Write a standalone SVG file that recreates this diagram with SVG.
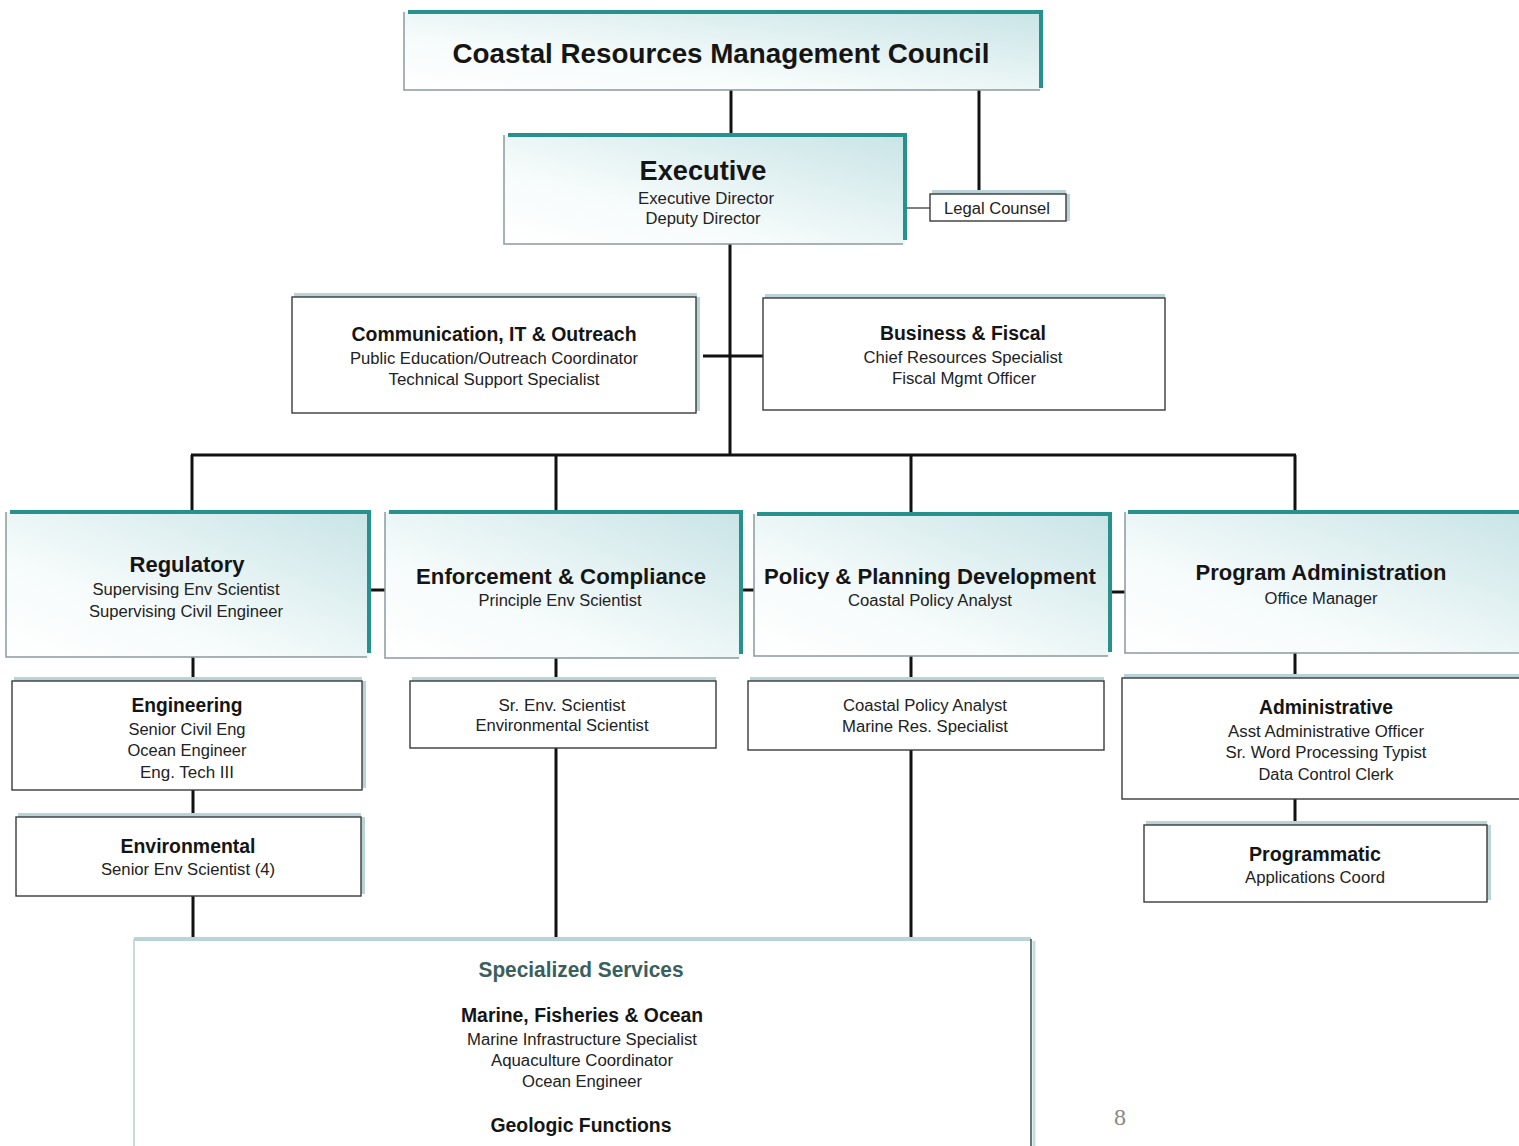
<svg xmlns="http://www.w3.org/2000/svg" width="1519" height="1146" viewBox="0 0 1519 1146">
<defs>
<linearGradient id="hg" x1="0" y1="1" x2="1" y2="0">
<stop offset="0" stop-color="#ffffff"/>
<stop offset="0.35" stop-color="#f6fbfb"/>
<stop offset="1" stop-color="#c9e4e6"/>
</linearGradient>
<style>
.hd{font-family:"Liberation Sans",Arial,sans-serif;font-weight:bold;fill:#151515;text-anchor:middle}
.sb{font-family:"Liberation Sans",Arial,sans-serif;fill:#222;text-anchor:middle}
.conn{stroke:#111;stroke-width:3;fill:none}
.thin{stroke:#555;stroke-width:1.5;fill:none}
.hbox{fill:url(#hg);stroke:none}
.edge{stroke:#8a9a9c;stroke-width:1.5;fill:none}
.teal{stroke:#26918d;stroke-width:4;fill:none}
.wbox{fill:#ffffff;stroke:#3a3a3a;stroke-width:1.4}
.shade{stroke:#b9d3d7;stroke-width:4;fill:none}
</style>
</defs>
<rect width="1519" height="1146" fill="#ffffff"/>

<g id="connectors">
<path class="conn" d="M731 90V135"/>
<path class="conn" d="M979 90V192"/>
<path class="thin" d="M907 208H930"/>
<path class="conn" d="M730 244V455"/>
<path class="conn" d="M703 356H763"/>
<path class="conn" d="M191 455H1296"/>
<path class="conn" d="M192 455V512"/>
<path class="conn" d="M556 455V512"/>
<path class="conn" d="M911 455V514"/>
<path class="conn" d="M1295 455V512"/>
<path class="conn" d="M371 590H385"/>
<path class="conn" d="M743 590H754"/>
<path class="conn" d="M1112 592H1125"/>
<path class="conn" d="M193 657V681"/>
<path class="conn" d="M556 658V681"/>
<path class="conn" d="M911 656V681"/>
<path class="conn" d="M1295 653V678"/>
<path class="conn" d="M193 790V817"/>
<path class="conn" d="M193 896V939"/>
<path class="conn" d="M556 748V939"/>
<path class="conn" d="M911 750V939"/>
<path class="conn" d="M1295 799V825"/>
</g>

<g id="council">
<rect class="hbox" x="404" y="12" width="638" height="78"/>
<path class="edge" d="M404 12V90H1040"/>
<path class="teal" d="M408 12H1043M1041 10V88"/>
<text class="hd" x="721" y="63" font-size="28" textLength="537" lengthAdjust="spacingAndGlyphs">Coastal Resources Management Council</text>
</g>

<g id="executive">
<rect class="hbox" x="504" y="135" width="401" height="109"/>
<path class="edge" d="M504 135V244H903"/>
<path class="teal" d="M508 135H907M905 133V240"/>
<text class="hd" x="703" y="180" font-size="28" textLength="127" lengthAdjust="spacingAndGlyphs">Executive</text>
<text class="sb" x="706" y="204" font-size="16" textLength="136" lengthAdjust="spacingAndGlyphs">Executive Director</text>
<text class="sb" x="703" y="224" font-size="16" textLength="115" lengthAdjust="spacingAndGlyphs">Deputy Director</text>
</g>

<g id="legal">
<path class="shade" d="M932 192H1066M1068 194V221"/>
<rect class="wbox" x="930" y="194" width="136" height="27"/>
<text class="sb" x="997" y="214" font-size="16" textLength="106" lengthAdjust="spacingAndGlyphs">Legal Counsel</text>
</g>

<g id="communication">
<path class="shade" d="M294 295H697M698 297V411"/>
<rect class="wbox" x="292" y="297" width="404" height="116"/>
<text class="hd" x="494" y="341" font-size="20" textLength="285" lengthAdjust="spacingAndGlyphs">Communication, IT &amp; Outreach</text>
<text class="sb" x="494" y="364" font-size="16" textLength="288" lengthAdjust="spacingAndGlyphs">Public Education/Outreach Coordinator</text>
<text class="sb" x="494" y="385" font-size="16" textLength="211" lengthAdjust="spacingAndGlyphs">Technical Support Specialist</text>
</g>

<g id="business">
<path class="shade" d="M765 296H1165"/>
<rect class="wbox" x="763" y="298" width="402" height="112"/>
<text class="hd" x="963" y="340" font-size="20" textLength="166" lengthAdjust="spacingAndGlyphs">Business &amp; Fiscal</text>
<text class="sb" x="963" y="363" font-size="16" textLength="199" lengthAdjust="spacingAndGlyphs">Chief Resources Specialist</text>
<text class="sb" x="964" y="384" font-size="16" textLength="144" lengthAdjust="spacingAndGlyphs">Fiscal Mgmt Officer</text>
</g>

<g id="regulatory">
<rect class="hbox" x="6" y="512" width="363" height="145"/>
<path class="edge" d="M6 512V657H367"/>
<path class="teal" d="M10 512H371M369 510V653"/>
<text class="hd" x="187" y="572" font-size="22" textLength="115" lengthAdjust="spacingAndGlyphs">Regulatory</text>
<text class="sb" x="186" y="595" font-size="16" textLength="187" lengthAdjust="spacingAndGlyphs">Supervising Env Scientist</text>
<text class="sb" x="186" y="617" font-size="16" textLength="194" lengthAdjust="spacingAndGlyphs">Supervising Civil Engineer</text>
</g>

<g id="enforcement">
<rect class="hbox" x="385" y="512" width="356" height="146"/>
<path class="edge" d="M385 512V658H739"/>
<path class="teal" d="M389 512H743M741 510V654"/>
<text class="hd" x="561" y="584" font-size="22" textLength="290" lengthAdjust="spacingAndGlyphs">Enforcement &amp; Compliance</text>
<text class="sb" x="560" y="606" font-size="16" textLength="163" lengthAdjust="spacingAndGlyphs">Principle Env Scientist</text>
</g>

<g id="policy">
<rect class="hbox" x="754" y="514" width="356" height="142"/>
<path class="edge" d="M754 514V656H1108"/>
<path class="teal" d="M757 514H1112M1110 512V652"/>
<text class="hd" x="930" y="584" font-size="22" textLength="332" lengthAdjust="spacingAndGlyphs">Policy &amp; Planning Development</text>
<text class="sb" x="930" y="606" font-size="16" textLength="164" lengthAdjust="spacingAndGlyphs">Coastal Policy Analyst</text>
</g>

<g id="program-admin">
<rect class="hbox" x="1125" y="512" width="400" height="141"/>
<path class="edge" d="M1125 512V653H1519"/>
<path class="teal" d="M1128 512H1519"/>
<text class="hd" x="1321" y="580" font-size="22" textLength="251" lengthAdjust="spacingAndGlyphs">Program Administration</text>
<text class="sb" x="1321" y="604" font-size="16" textLength="113" lengthAdjust="spacingAndGlyphs">Office Manager</text>
</g>

<g id="engineering">
<path class="shade" d="M14 679H362M364 681V788"/>
<rect class="wbox" x="12" y="681" width="350" height="109"/>
<text class="hd" x="187" y="712" font-size="20" textLength="111" lengthAdjust="spacingAndGlyphs">Engineering</text>
<text class="sb" x="187" y="735" font-size="16" textLength="117" lengthAdjust="spacingAndGlyphs">Senior Civil Eng</text>
<text class="sb" x="187" y="756" font-size="16" textLength="119" lengthAdjust="spacingAndGlyphs">Ocean Engineer</text>
<text class="sb" x="187" y="778" font-size="16" textLength="94" lengthAdjust="spacingAndGlyphs">Eng. Tech III</text>
</g>

<g id="environmental">
<path class="shade" d="M18 815H361M363 817V894"/>
<rect class="wbox" x="16" y="817" width="345" height="79"/>
<text class="hd" x="188" y="853" font-size="20" textLength="135" lengthAdjust="spacingAndGlyphs">Environmental</text>
<text class="sb" x="188" y="875" font-size="16" textLength="174" lengthAdjust="spacingAndGlyphs">Senior Env Scientist (4)</text>
</g>

<g id="enforcement-staff">
<path class="shade" d="M412 679H716"/>
<rect class="wbox" x="410" y="681" width="306" height="67"/>
<text class="sb" x="562" y="711" font-size="16" textLength="127" lengthAdjust="spacingAndGlyphs">Sr. Env. Scientist</text>
<text class="sb" x="562" y="731" font-size="16" textLength="173" lengthAdjust="spacingAndGlyphs">Environmental Scientist</text>
</g>

<g id="policy-staff">
<path class="shade" d="M750 679H1104"/>
<rect class="wbox" x="748" y="681" width="356" height="69"/>
<text class="sb" x="925" y="711" font-size="16" textLength="164" lengthAdjust="spacingAndGlyphs">Coastal Policy Analyst</text>
<text class="sb" x="925" y="732" font-size="16" textLength="166" lengthAdjust="spacingAndGlyphs">Marine Res. Specialist</text>
</g>

<g id="administrative">
<path class="shade" d="M1124 676H1519"/>
<rect class="wbox" x="1122" y="678" width="400" height="121" stroke="#777"/>
<text class="hd" x="1326" y="714" font-size="20" textLength="134" lengthAdjust="spacingAndGlyphs">Administrative</text>
<text class="sb" x="1326" y="737" font-size="16" textLength="196" lengthAdjust="spacingAndGlyphs">Asst Administrative Officer</text>
<text class="sb" x="1326" y="758" font-size="16" textLength="201" lengthAdjust="spacingAndGlyphs">Sr. Word Processing Typist</text>
<text class="sb" x="1326" y="780" font-size="16" textLength="135" lengthAdjust="spacingAndGlyphs">Data Control Clerk</text>
</g>

<g id="programmatic">
<path class="shade" d="M1146 823H1487M1489 825V900"/>
<rect class="wbox" x="1144" y="825" width="343" height="77"/>
<text class="hd" x="1315" y="861" font-size="20" textLength="132" lengthAdjust="spacingAndGlyphs">Programmatic</text>
<text class="sb" x="1315" y="883" font-size="16" textLength="140" lengthAdjust="spacingAndGlyphs">Applications Coord</text>
</g>

<g id="specialized">
<rect x="134" y="939" width="897" height="210" fill="#ffffff" stroke="none"/>
<path d="M134 939H1031" stroke="#b9d3d7" stroke-width="4" fill="none"/>
<path d="M134 939V1146" stroke="#b9cfd3" stroke-width="1.5" fill="none"/>
<path d="M1031 939V1146" stroke="#3a4a4a" stroke-width="1.5" fill="none"/>
<path d="M1034 941V1146" stroke="#c5dde0" stroke-width="3" fill="none"/>
<text class="hd" x="581" y="977" font-size="22" fill="#3b5f5e" style="fill:#3b5f5e" textLength="205" lengthAdjust="spacingAndGlyphs">Specialized Services</text>
<text class="hd" x="582" y="1022" font-size="20" textLength="242" lengthAdjust="spacingAndGlyphs">Marine, Fisheries &amp; Ocean</text>
<text class="sb" x="582" y="1045" font-size="16" textLength="230" lengthAdjust="spacingAndGlyphs">Marine Infrastructure Specialist</text>
<text class="sb" x="582" y="1066" font-size="16" textLength="182" lengthAdjust="spacingAndGlyphs">Aquaculture Coordinator</text>
<text class="sb" x="582" y="1087" font-size="16" textLength="120" lengthAdjust="spacingAndGlyphs">Ocean Engineer</text>
<text class="hd" x="581" y="1132" font-size="20" textLength="181" lengthAdjust="spacingAndGlyphs">Geologic Functions</text>
</g>

<text x="1120" y="1125" font-family="'Liberation Serif',serif" font-size="24" fill="#888" text-anchor="middle">8</text>
</svg>
